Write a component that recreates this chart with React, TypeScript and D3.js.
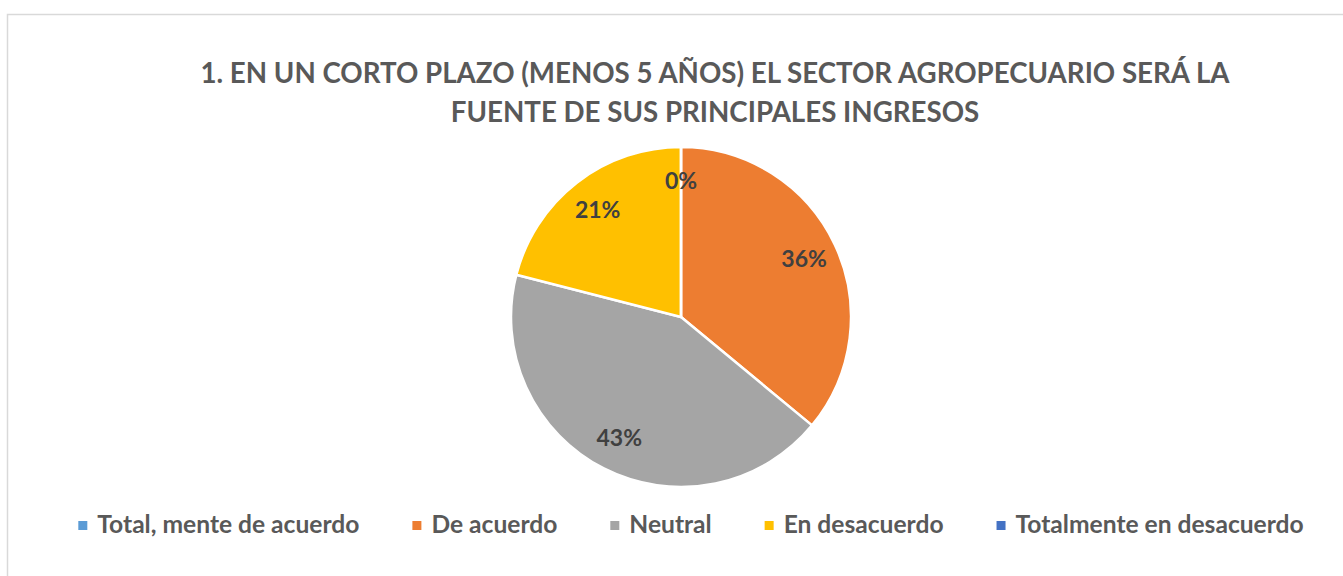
import React, { useEffect, useRef } from 'react';
import * as d3 from 'd3';

const categories = [
  'Total, mente de acuerdo',
  'De acuerdo',
  'Neutral',
  'En desacuerdo',
  'Totalmente en desacuerdo',
];
const values = [0, 36, 43, 21, 0];
const colors = ['#5B9BD5', '#ED7D31', '#A5A5A5', '#FFC000', '#4472C4'];
const titleLines = [
  '1. EN UN CORTO PLAZO (MENOS 5 AÑOS) EL SECTOR AGROPECUARIO SERÁ LA',
  'FUENTE DE SUS PRINCIPALES INGRESOS',
];

const PieChart = () => {
  const svgRef = useRef<SVGSVGElement>(null);

  useEffect(() => {
    const width = 1343;
    const height = 576;
    const cx = 681;
    const cy = 317;
    const radius = 170;
    const font = 'Lato, "Open Sans", sans-serif';

    const svg = d3.select(svgRef.current);
    svg.selectAll('*').remove();
    svg.attr('width', width).attr('height', height);

    // chart frame
    svg.append('rect')
      .attr('x', 7.5)
      .attr('y', 14.5)
      .attr('width', width + 10)
      .attr('height', height)
      .attr('fill', '#fff')
      .attr('stroke', '#d9d9d9')
      .attr('stroke-width', 1.5);

    // title
    svg.append('g')
      .selectAll('text')
      .data(titleLines)
      .enter().append('text')
      .attr('x', 715)
      .attr('y', (d, i) => 83 + i * 39)
      .attr('text-anchor', 'middle')
      .attr('font-family', font)
      .attr('font-weight', 'bold')
      .attr('font-size', 27.7)
      .attr('fill', '#595959')
      .text(d => d);

    const pie = d3.pie<number>().sort(null).value(d => d);
    const arcs = pie(values);
    const arc = d3.arc<d3.PieArcDatum<number>>().innerRadius(0).outerRadius(radius);
    const labelArc = d3.arc<d3.PieArcDatum<number>>()
      .innerRadius(radius * 0.8)
      .outerRadius(radius * 0.8);

    const g = svg.append('g').attr('transform', `translate(${cx},${cy})`);

    g.selectAll('path')
      .data(arcs)
      .enter().append('path')
      .attr('d', arc)
      .attr('fill', (d, i) => colors[i])
      .attr('stroke', '#fff')
      .attr('stroke-width', 2.5)
      .attr('stroke-linejoin', 'round');

    // labels (the two empty slices share one spot, so only the first one is written)
    const labelled = arcs.filter((d, i) => !(d.value === 0 && i === arcs.length - 1));
    g.selectAll('text')
      .data(labelled)
      .enter().append('text')
      .attr('transform', d => `translate(${labelArc.centroid(d)})`)
      .attr('text-anchor', 'middle')
      .attr('dy', '0.35em')
      .attr('font-family', font)
      .attr('font-weight', 'bold')
      .attr('font-size', 23)
      .attr('fill', '#404040')
      .text(d => `${Math.round(d.value)}%`);

    // legend
    const legend = svg.append('g');
    const items = legend.selectAll('g')
      .data(categories)
      .enter().append('g');
    items.append('rect')
      .attr('width', 9)
      .attr('height', 9)
      .attr('y', -12)
      .attr('fill', (d, i) => colors[i]);
    const texts = items.append('text')
      .attr('x', 19)
      .attr('font-family', font)
      .attr('font-weight', 'bold')
      .attr('font-size', 24.6)
      .attr('fill', '#595959')
      .text(d => d);

    const gap = 53;
    const widths = texts.nodes().map(n => 19 + (n as SVGTextElement).getComputedTextLength());
    const total = d3.sum(widths) + gap * (widths.length - 1);
    let x = 691 - total / 2;
    items.each(function (d, i) {
      d3.select(this).attr('transform', `translate(${x},533)`);
      x += widths[i] + gap;
    });
  }, []);

  return <svg ref={svgRef} style={{ position: 'absolute', left: 0, top: 0 }}></svg>;
};

export default function App() {
  return <PieChart />;
}
